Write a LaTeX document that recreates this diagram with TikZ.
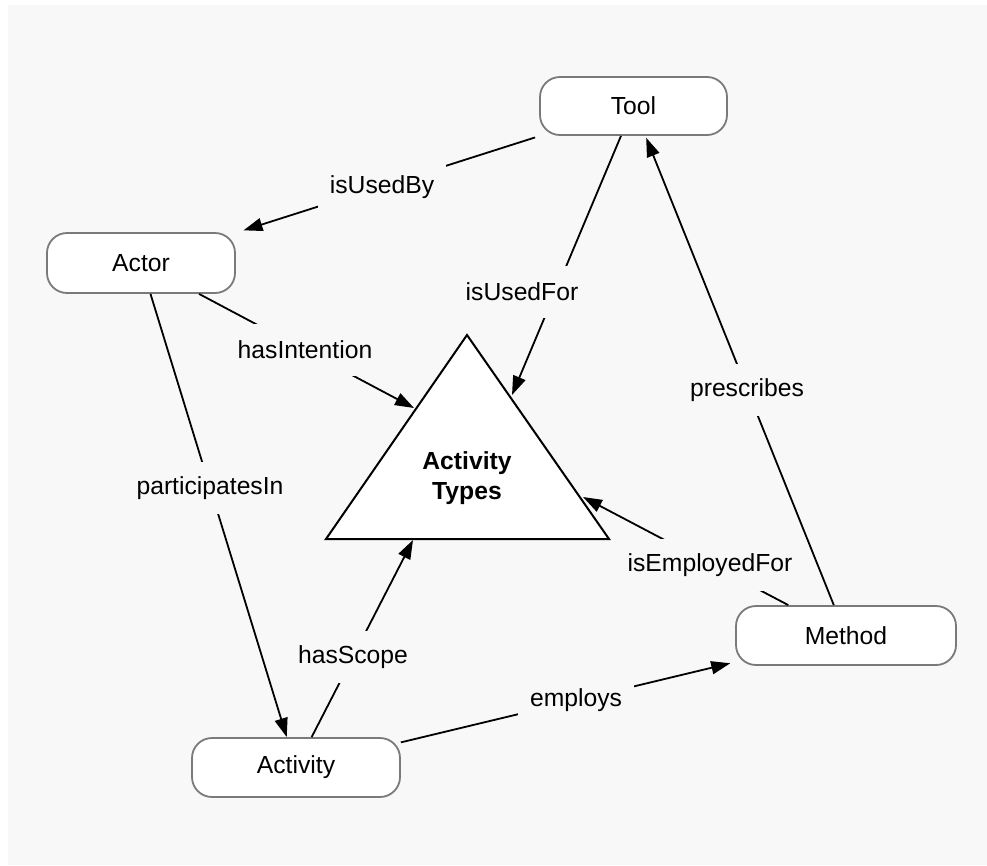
\documentclass[tikz,border=0pt]{standalone}
\usepackage{fontspec}
\setmainfont{Liberation Sans}
\usetikzlibrary{arrows.meta}
\definecolor{bg}{RGB}{248,248,248}
\definecolor{boxline}{RGB}{122,122,122}
\begin{document}
\begin{tikzpicture}[x=1pt,y=-1pt,
  concept/.style={draw=boxline, line width=1.8pt, fill=white, rounded corners=20pt, inner sep=0pt, font=\fontsize{24.7}{30}\selectfont},
  lbl/.style={fill=bg, inner xsep=12pt, inner ysep=0pt, minimum height=52pt, font=\fontsize{24.7}{30}\selectfont},
  conn/.style={line width=1.8pt, -{Triangle[length=19pt,width=13pt]}},
  tri/.style={draw=black, line width=2pt, fill=white, line join=miter},
]
\useasboundingbox (0,0) rectangle (987,865);
\fill[white] (0,0) rectangle (987,865);
\fill[bg] (8,5) rectangle (987,865);

\node[concept, minimum width=187pt, minimum height=58pt] (tool) at (633.5,106) {Tool};
\node[concept, minimum width=188pt, minimum height=60pt] (actor) at (141,263) {Actor};
\node[concept, minimum width=220pt, minimum height=59pt] (method) at (846,635.5) {Method};
\node[concept, minimum width=208pt, minimum height=59pt] (activity) at (296,767.5) {Activity};

\draw[tri] (467,335) -- (609,539) -- (326,539) -- cycle;
\node[font=\fontsize{24.7}{30}\selectfont\bfseries, align=center] (types) at (467,478) {Activity\\Types};
\coordinate (tUF) at (512,395);
\coordinate (tHI) at (414,408);
\coordinate (tHS) at (413,540);
\coordinate (tEF) at (583,497);

\draw[conn, shorten <=5pt, shorten >=8pt] (tool) -- (actor);
\draw[conn] (tool) -- (tUF);
\draw[conn] (actor) -- (tHI);
\draw[conn] (actor) -- (activity);
\draw[conn] (activity) -- (tHS);
\draw[conn, shorten >=5pt] (activity) -- (method);
\draw[conn, shorten >=2pt] (method) -- (tool);
\draw[conn] (method) -- (tEF);

\node[lbl] (l1) at (382,187) {isUsedBy};
\node[lbl] (l2) at (522,292) {isUsedFor};
\node[lbl] (l3) at (305,350) {hasIntention};
\node[lbl] (l4) at (210,488) {participatesIn};
\node[lbl] (l5) at (353,657) {hasScope};
\node[lbl] (l6) at (576,700) {employs};
\node[lbl] (l7) at (710,565) {isEmployedFor};
\node[lbl] (l8) at (747,390) {prescribes};
\end{tikzpicture}
\end{document}
